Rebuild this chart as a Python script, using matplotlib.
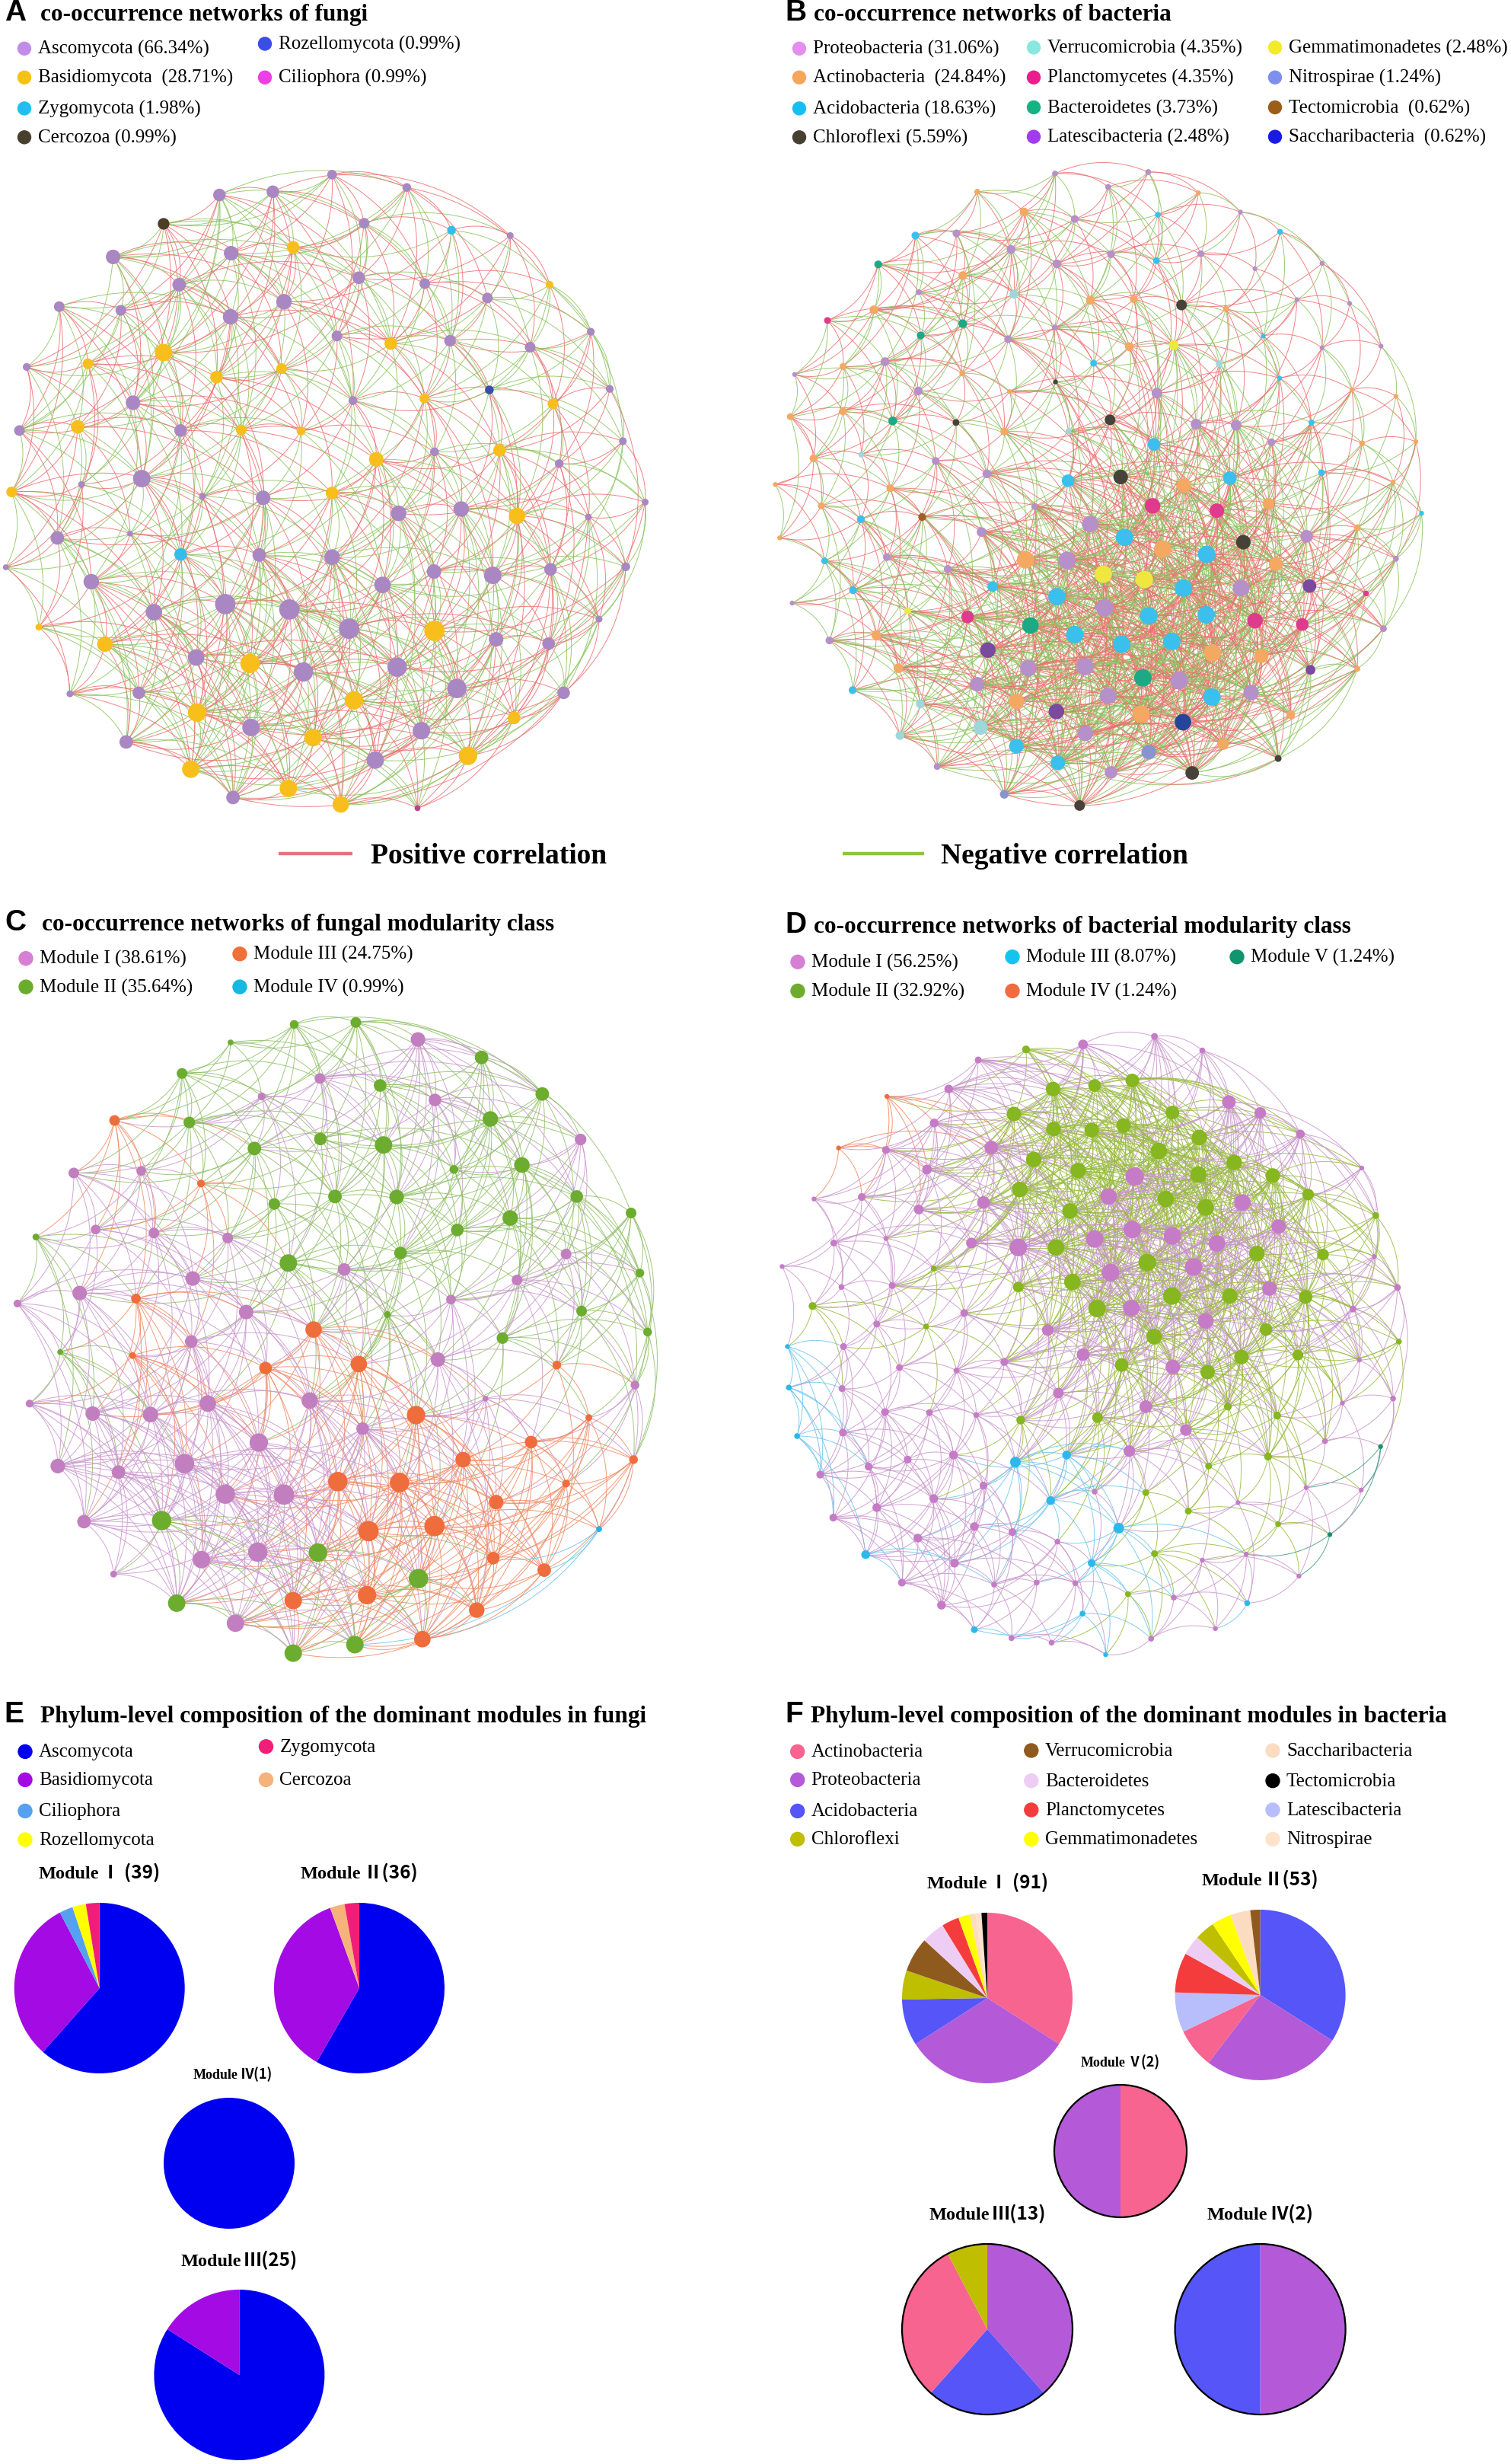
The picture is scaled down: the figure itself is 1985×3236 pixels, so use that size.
import numpy as np
import matplotlib
matplotlib.use('Agg')
import matplotlib.pyplot as plt
from matplotlib.collections import LineCollection
from matplotlib.patches import Circle, Wedge
from matplotlib.offsetbox import TextArea, HPacker, AnnotationBbox

SERIF = 'Liberation Serif'

# ---------------- network A (fungi, by phylum) : layout x, y, node radius, phylum
fungi_nodes = [
    (684,327,10,'As'),(452,365,13,'As'),(562,359,13,'As'),(838,351,9,'As'),(337,419,12,'Ce'),
    (750,418,11,'As'),(930,431,9,'Zy'),(1051,441,7,'As'),(233,481,15,'As'),(476,474,15,'As'),
    (604,463,13,'Ba'),(369,533,14,'As'),(739,520,13,'As'),(875,531,11,'As'),(1132,533,8,'Ba'),
    (585,565,16,'As'),(1004,558,11,'As'),(122,574,11,'As'),(249,581,11,'As'),(475,593,16,'As'),
    (1217,621,8,'As'),(694,629,11,'As'),(805,643,13,'Ba'),(927,638,12,'As'),(1092,650,11,'As'),
    (337,660,18,'Ba'),(181,681,11,'Ba'),(55,687,8,'As'),(580,690,11,'Ba'),(446,706,13,'Ba'),
    (1008,730,9,'Ro'),(727,750,9,'As'),(874,746,10,'Ba'),(1139,756,11,'Ba'),(1256,728,8,'As'),
    (274,754,15,'As'),(40,806,11,'As'),(160,799,14,'Ba'),(372,806,13,'As'),(497,805,11,'Ba'),
    (620,807,9,'Ba'),(1029,843,13,'Ba'),(1283,826,8,'As'),(895,846,9,'As'),(775,860,15,'Ba'),
    (1152,868,9,'As'),(292,896,18,'As'),(168,907,7,'As'),(24,921,11,'Ba'),(417,929,7,'As'),
    (542,932,15,'As'),(684,923,13,'Ba'),(821,961,16,'As'),(950,953,16,'As'),(1065,966,17,'Ba'),
    (1329,940,7,'As'),(1212,968,7,'As'),(118,1007,14,'As'),(268,999,6,'As'),(372,1038,13,'Zy'),
    (534,1039,14,'As'),(684,1043,16,'As'),(12,1062,6,'As'),(188,1089,16,'As'),(894,1070,15,'As'),
    (1015,1077,18,'As'),(1134,1066,13,'As'),(1289,1061,9,'As'),(788,1095,17,'As'),(317,1146,17,'As'),
    (464,1131,21,'As'),(596,1141,21,'As'),(80,1174,7,'Ba'),(719,1177,21,'As'),(895,1181,21,'Ba'),
    (1234,1159,7,'As'),(216,1206,16,'Ba'),(1022,1197,15,'As'),(1130,1205,13,'As'),(404,1231,17,'As'),
    (515,1242,20,'Ba'),(625,1258,20,'As'),(818,1249,20,'As'),(941,1289,20,'As'),(1161,1297,13,'As'),
    (144,1299,7,'As'),(286,1297,13,'As'),(729,1311,19,'Ba'),(406,1334,19,'Ba'),(1059,1344,13,'Ba'),
    (517,1362,18,'As'),(868,1368,18,'As'),(645,1381,18,'Ba'),(260,1389,14,'As'),(773,1423,18,'As'),
    (964,1415,19,'Ba'),(393,1440,18,'Ba'),(594,1476,18,'Ba'),(480,1493,14,'As'),(702,1506,17,'Ba'),
    (860,1513,6,'Ci'),
]
fungi_node_colors = {'As': '#a987c3', 'Ba': '#f8bf1c', 'Zy': '#35bde9', 'Ce': '#4b3e26',
                     'Ro': '#3551a5', 'Ci': '#b9448c'}
fungi_legend = [('Ascomycota (66.34%)', '#c28de8'), ('Basidiomycota  (28.71%)', '#f5c211'),
                ('Zygomycota (1.98%)', '#1fc0f0'), ('Cercozoa (0.99%)', '#4a3f2f'),
                ('Rozellomycota (0.99%)', '#3b4de6'), ('Ciliophora (0.99%)', '#ee3ee6')]

# ---------------- network B (bacteria, by phylum)
bact_nodes = [
    (624,325,6,'P'),(817,322,6,'P'),(463,359,6,'Ac'),(734,350,6,'P'),(921,361,5,'Ac'),
    (560,397,9,'Ac'),(665,410,8,'P'),(837,402,6,'Ad'),(1008,397,5,'P'),(1090,434,6,'Ad'),
    (335,441,8,'Ad'),(420,437,8,'P'),(533,467,9,'P'),(740,476,8,'P'),(926,475,7,'P'),
    (258,495,8,'Bc'),(628,494,9,'P'),(834,488,7,'Ad'),(1177,493,5,'P'),(1038,503,5,'P'),
    (433,516,9,'Ac'),(539,551,9,'V'),(342,547,6,'P'),(697,562,9,'Ac'),(787,560,8,'Ac'),
    (886,571,11,'Ch'),(1125,561,5,'P'),(1234,568,5,'P'),(978,578,6,'Ac'),(249,580,9,'Ac'),
    (153,600,7,'Pl'),(433,606,9,'Bc'),(346,628,8,'Bc'),(624,613,6,'P'),(527,635,8,'P'),
    (778,649,9,'Ac'),(870,646,10,'G'),(1055,629,5,'Ad'),(1177,651,5,'P'),(1299,648,5,'P'),
    (272,677,9,'P'),(185,686,7,'Ac'),(704,680,7,'Ad'),(964,681,7,'V'),(85,701,5,'P'),
    (432,699,6,'Ac'),(625,715,5,'Ch'),(530,733,5,'Ac'),(835,736,11,'P'),(1089,708,5,'Ad'),
    (1239,730,5,'Ac'),(1330,742,5,'Ac'),(341,732,9,'P'),(185,770,8,'Ac'),(76,780,7,'Ac'),
    (288,788,9,'Bc'),(419,791,7,'Ch'),(738,786,11,'Ch'),(519,808,8,'Ac'),(652,807,6,'V'),
    (916,794,11,'P'),(999,796,11,'P'),(1155,791,6,'Ad'),(1072,828,8,'P'),(1260,830,6,'Ac'),
    (1371,827,5,'Ac'),(829,832,13,'Ad'),(124,858,8,'Ac'),(223,851,6,'V'),(377,863,8,'P'),
    (483,887,9,'P'),(1176,885,7,'Ad'),(45,907,5,'Ac'),(283,914,8,'Ac'),(651,900,13,'Ad'),
    (760,893,15,'Ch'),(891,909,15,'Ac'),(986,895,14,'Ad'),(1324,903,5,'Ac'),(140,947,7,'Ac'),
    (582,948,7,'P'),(826,947,16,'Pl'),(959,956,15,'Pl'),(1066,943,12,'Ac'),(1383,961,5,'Ad'),
    (222,972,8,'Ad'),(349,968,8,'T'),(697,981,17,'P'),(54,1007,5,'Ac'),(472,996,10,'P'),
    (768,1006,18,'Ad'),(847,1028,18,'Ac'),(1014,1015,15,'Ch'),(1145,1004,13,'P'),(1250,988,7,'Ac'),
    (563,1048,18,'Ac'),(649,1049,18,'P'),(938,1038,18,'Ad'),(276,1043,8,'P'),(147,1050,7,'Ad'),
    (402,1065,8,'P'),(1081,1056,14,'Ac'),(1330,1046,6,'P'),(724,1075,18,'G'),(809,1085,18,'G'),
    (890,1101,18,'Ad'),(1009,1101,17,'P'),(1151,1097,14,'Lt'),(206,1105,8,'Ad'),(495,1098,11,'Ad'),
    (628,1117,18,'Ad'),(727,1138,18,'P'),(818,1153,18,'Ad'),(937,1151,18,'Ad'),(1268,1111,6,'Pl'),
    (80,1129,5,'P'),(319,1144,7,'G'),(443,1155,13,'Pl'),(573,1171,17,'Bc'),(1038,1162,16,'Pl'),
    (1136,1169,13,'Pl'),(665,1188,18,'Ad'),(762,1206,18,'Ad'),(866,1201,18,'Ad'),(1304,1177,7,'P'),
    (157,1199,8,'P'),(254,1189,10,'Ac'),(485,1217,16,'Lt'),(950,1222,18,'Ac'),(1051,1228,15,'Ac'),
    (1153,1254,10,'Lt'),(569,1251,17,'P'),(686,1248,18,'P'),(300,1251,10,'Ac'),(1250,1252,6,'Ac'),
    (806,1269,18,'Bc'),(881,1274,18,'P'),(463,1281,15,'P'),(1030,1297,16,'P'),(205,1292,8,'Ad'),
    (544,1313,16,'Ac'),(734,1303,17,'P'),(949,1305,18,'Ad'),(345,1318,9,'V'),(627,1332,16,'Lt'),
    (802,1337,18,'Ac'),(1112,1338,9,'Ac'),(889,1352,17,'S'),(470,1362,15,'V'),(687,1373,16,'P'),
    (303,1377,9,'V'),(544,1397,15,'Ad'),(972,1393,12,'Ac'),(818,1408,15,'N'),(1086,1420,7,'Ch'),
    (380,1435,7,'P'),(630,1428,15,'Ad'),(740,1446,13,'P'),(908,1447,14,'Ch'),(519,1487,9,'N'),
    (675,1508,11,'Ch'),
]
bact_node_colors = {'P': '#b590c9', 'Ac': '#f4a862', 'Ad': '#3bbfec', 'Ch': '#46423a', 'V': '#9fd6dc',
                    'Pl': '#df3a8e', 'Bc': '#1fa885', 'Lt': '#7a4a9e', 'G': '#f0e640', 'N': '#8a94cc',
                    'T': '#9b6125', 'S': '#25459a'}
bact_legend = [('Proteobacteria (31.06%)', '#e48ef0'), ('Actinobacteria  (24.84%)', '#f5a65b'),
               ('Acidobacteria (18.63%)', '#17bff0'), ('Chloroflexi (5.59%)', '#473f31'),
               ('Verrucomicrobia (4.35%)', '#88e8e0'), ('Planctomycetes (4.35%)', '#ec1c8c'),
               ('Bacteroidetes (3.73%)', '#14b384'), ('Latescibacteria (2.48%)', '#a23bf0'),
               ('Gemmatimonadetes (2.48%)', '#f3ea2c'), ('Nitrospirae (1.24%)', '#7f8fee'),
               ('Tectomicrobia  (0.62%)', '#9b5d1a'), ('Saccharibacteria  (0.62%)', '#1a1ae6')]

# ---------------- network C (fungi, by module)
fmod_nodes = [
    (606,267,9,1),(733,263,11,1),(475,303,6,1),(861,297,15,0),(375,365,11,1),(659,375,11,0),
    (992,333,14,1),(783,389,13,1),(539,411,8,0),(896,418,13,0),(1117,406,14,1),(236,459,11,2),
    (390,463,12,1),(1010,456,16,1),(524,515,14,1),(660,496,13,1),(790,508,18,1),(1196,497,12,0),
    (1075,548,16,1),(935,557,9,1),(152,564,11,0),(291,560,10,0),(414,585,8,2),(565,626,12,1),
    (690,611,14,1),(817,612,15,1),(1188,611,13,1),(1051,654,16,1),(1300,644,11,1),(197,677,10,0),
    (317,684,11,0),(469,694,11,0),(942,678,13,1),(74,692,7,1),(594,744,18,1),(825,724,13,1),
    (709,757,13,0),(1166,726,11,0),(1065,778,11,0),(1318,764,9,1),(36,825,8,0),(164,804,15,0),
    (397,775,15,0),(280,815,10,2),(507,842,15,0),(929,817,10,0),(798,847,7,1),(1198,840,11,1),
    (646,877,17,2),(1035,894,12,1),(1334,882,9,1),(124,922,6,1),(394,901,13,0),(273,929,7,2),
    (547,954,13,2),(739,946,17,2),(902,937,15,0),(1147,948,9,2),(1308,988,9,0),(1000,1015,6,0),
    (61,1025,8,0),(191,1045,15,0),(310,1047,16,0),(428,1025,17,0),(638,1019,17,0),(857,1048,19,2),
    (747,1075,13,0),(1213,1053,7,2),(1094,1102,13,2),(533,1103,19,0),(119,1150,15,0),(244,1162,14,0),
    (380,1145,20,0),(954,1137,16,2),(1305,1137,9,2),(696,1181,20,2),(823,1183,20,2),(1166,1185,8,2),
    (464,1206,20,0),(585,1207,21,0),(1022,1222,15,2),(333,1259,20,1),(173,1261,14,0),(759,1280,21,2),
    (895,1270,21,2),(1234,1276,6,3),(531,1322,20,0),(655,1323,19,1),(415,1337,18,0),(1016,1334,13,2),
    (1121,1358,14,2),(234,1366,7,0),(862,1375,20,1),(364,1424,18,1),(604,1419,18,2),(756,1408,19,2),
    (982,1438,16,2),(485,1464,18,0),(870,1496,17,2),(604,1524,18,1),(731,1507,18,1),
]
fmod_node_colors = ['#c27fc0', '#6cac2f', '#ef6d3c', '#20b5e3']
fmod_edge_colors = ['#c995cd', '#8fbf66', '#ef8a62', '#6cc3e6']
fmod_legend = [('Module I (38.61%)', '#d77fd4'), ('Module II (35.64%)', '#6aad2d'),
               ('Module III (24.75%)', '#f07038'), ('Module IV (0.99%)', '#14b8e0')]

# ---------------- network D (bacteria, by module)
bmod_nodes = [
    (682,307,10,0),(830,291,7,0),(564,317,8,1),(929,319,6,0),(465,338,7,0),(404,396,9,0),
    (620,396,15,1),(706,389,13,1),(784,379,14,1),(276,411,5,3),(539,446,15,1),(867,443,14,1),
    (984,422,14,0),(1049,444,12,0),(374,464,9,0),(621,476,15,1),(700,478,15,1),(766,469,15,1),
    (923,493,16,1),(1132,486,9,0),(176,514,5,3),(274,518,8,0),(492,513,14,0),(580,537,16,1),
    (839,520,17,1),(995,543,16,1),(359,557,10,0),(672,559,16,1),(789,571,19,0),(921,567,17,1),
    (1075,569,15,1),(1259,554,5,0),(224,612,8,0),(551,597,16,1),(735,611,17,0),(853,616,17,1),
    (1012,623,17,0),(476,623,13,0),(1148,607,12,1),(125,616,5,0),(342,637,10,0),(655,640,16,1),
    (936,633,17,1),(1288,649,7,1),(1087,671,15,0),(166,704,7,0),(274,695,5,0),(451,704,11,0),
    (548,713,18,0),(626,713,17,1),(706,696,18,0),(784,677,18,0),(867,690,18,0),(959,705,17,0),
    (1042,725,16,1),(1179,727,12,1),(373,755,6,1),(59,751,5,0),(1285,731,5,0),(739,763,18,0),
    (815,743,18,1),(911,752,18,0),(182,792,6,0),(287,789,7,0),(548,792,11,1),(660,782,17,1),
    (866,810,18,1),(986,810,16,1),(1068,795,15,0),(1143,812,14,1),(1333,793,7,0),(122,830,8,1),
    (711,835,18,1),(782,834,17,0),(1241,836,7,0),(436,844,8,0),(255,866,7,0),(357,871,6,1),
    (609,878,12,0),(936,860,16,0),(1061,877,13,1),(829,891,16,1),(1336,901,6,1),(70,911,5,2),
    (186,911,7,0),(682,927,13,0),(1010,932,15,1),(1127,928,11,1),(302,953,7,0),(420,959,6,0),
    (519,942,8,0),(762,948,14,1),(868,952,15,0),(940,962,15,1),(1254,938,5,0),(73,993,6,2),
    (183,995,7,0),(631,1004,11,0),(812,1031,13,0),(982,1031,8,1),(1219,1024,5,0),(1324,1015,6,0),
    (272,1042,8,0),(364,1043,7,0),(461,1048,6,0),(553,1058,9,1),(712,1053,11,1),(1084,1049,8,1),
    (895,1078,12,0),(90,1090,6,2),(185,1083,8,0),(1183,1100,6,0),(1298,1111,5,4),(542,1142,11,2),
    (648,1128,9,2),(778,1120,12,0),(942,1150,7,1),(1065,1131,8,1),(319,1137,8,0),(414,1128,9,0),
    (238,1151,8,0),(138,1167,8,0),(476,1189,8,0),(1144,1193,5,0),(1258,1198,5,0),(615,1219,9,2),
    (706,1201,6,0),(812,1203,7,1),(373,1215,9,0),(1003,1223,5,0),(255,1233,9,0),(900,1240,7,1),
    (165,1253,8,0),(457,1271,9,0),(536,1282,8,0),(756,1274,11,2),(1086,1266,6,1),(1193,1287,5,4),
    (340,1294,9,0),(629,1301,6,0),(232,1327,9,2),(830,1325,7,1),(1020,1326,5,0),(416,1344,9,0),
    (700,1344,8,2),(929,1338,5,0),(307,1383,8,0),(498,1387,6,0),(586,1383,6,0),(666,1384,6,0),
    (1129,1370,5,0),(775,1406,6,1),(389,1428,9,0),(870,1413,6,0),(1022,1424,6,2),(681,1445,6,2),
    (457,1477,7,2),(534,1494,6,0),(617,1503,6,0),(823,1495,6,0),(956,1475,5,0),(729,1527,5,2),
]
bmod_node_colors = ['#c67bc6', '#86b620', '#2db8ec', '#f06a3a', '#1a8f6c']
bmod_edge_colors = ['#c994cb', '#98bb3e', '#6cc4ec', '#f0875e', '#3a9a7c']
bmod_legend = [('Module I (56.25%)', '#d480d4'), ('Module II (32.92%)', '#6fac2e'),
               ('Module III (8.07%)', '#14c4ee'), ('Module IV (1.24%)', '#f26a40'),
               ('Module V (1.24%)', '#13936e')]

# ---------------- panel E pies (phylum counts per module, clockwise from 12 o'clock)
fungi_phyla_colors = {'Ascomycota': '#0000f0', 'Basidiomycota': '#a40ae4', 'Ciliophora': '#55a0f0',
                      'Rozellomycota': '#ffff00', 'Zygomycota': '#f01e78', 'Cercozoa': '#f5b27a'}
fungi_pie_legend = ['Ascomycota', 'Basidiomycota', 'Ciliophora', 'Rozellomycota', 'Zygomycota', 'Cercozoa']
e_mod1 = [('Ascomycota', 24), ('Basidiomycota', 12), ('Ciliophora', 1), ('Rozellomycota', 1), ('Zygomycota', 1)]
e_mod2 = [('Ascomycota', 21), ('Basidiomycota', 13), ('Cercozoa', 1), ('Zygomycota', 1)]
e_mod4 = [('Ascomycota', 1)]
e_mod3 = [('Ascomycota', 21), ('Basidiomycota', 4)]

# ---------------- panel F pies
bact_phyla_colors = {'Actinobacteria': '#f7648f', 'Proteobacteria': '#b45ad8', 'Acidobacteria': '#5555f8',
                     'Chloroflexi': '#c0be00', 'Verrucomicrobia': '#8f5a1e', 'Bacteroidetes': '#eecdf5',
                     'Planctomycetes': '#f53c3c', 'Gemmatimonadetes': '#ffff00',
                     'Saccharibacteria': '#fcdcc0', 'Tectomicrobia': '#000000',
                     'Latescibacteria': '#b8befc', 'Nitrospirae': '#fde3cc'}
bact_pie_legend = ['Actinobacteria', 'Proteobacteria', 'Acidobacteria', 'Chloroflexi',
                   'Verrucomicrobia', 'Bacteroidetes', 'Planctomycetes', 'Gemmatimonadetes',
                   'Saccharibacteria', 'Tectomicrobia', 'Latescibacteria', 'Nitrospirae']
f_mod1 = [('Actinobacteria', 31), ('Proteobacteria', 29), ('Acidobacteria', 8), ('Chloroflexi', 5),
          ('Verrucomicrobia', 6), ('Bacteroidetes', 4), ('Planctomycetes', 3), ('Gemmatimonadetes', 2),
          ('Saccharibacteria', 1), ('Nitrospirae', 1), ('Tectomicrobia', 1)]
f_mod2 = [('Acidobacteria', 18), ('Proteobacteria', 14), ('Actinobacteria', 4), ('Latescibacteria', 4),
          ('Planctomycetes', 4), ('Bacteroidetes', 2), ('Chloroflexi', 2), ('Gemmatimonadetes', 2),
          ('Saccharibacteria', 2), ('Verrucomicrobia', 1)]
f_mod5 = [('Actinobacteria', 1), ('Proteobacteria', 1)]
f_mod3 = [('Proteobacteria', 5), ('Acidobacteria', 3), ('Actinobacteria', 4), ('Chloroflexi', 1)]
f_mod4 = [('Proteobacteria', 1), ('Acidobacteria', 1)]

W, H = 1985, 3236
fig = plt.figure(figsize=(W / 100, H / 100), dpi=100)
ax = fig.add_axes([0, 0, 1, 1])
ax.set_xlim(0, W)
ax.set_ylim(H, 0)
ax.axis('off')


def pick_edges(px, py, pr, per_px=1.2, kmax=None):
    # links from each node to a spread of its neighbours, more for bigger (higher degree) nodes
    pts = np.c_[px, py]
    d = np.hypot(pts[:, None, 0] - pts[None, :, 0], pts[:, None, 1] - pts[None, :, 1])
    n = len(px)
    edges = set()
    for i in range(n):
        order = np.argsort(d[i])[1:]
        if kmax:
            k = max(2, int(round((pr[i] / pr.max()) ** 1.6 * kmax)))
        else:
            k = max(3, int(pr[i] * per_px))
        picks = list(order[:min(2 * k, n - 1):2]) + list(order[:2])
        for j in picks:
            edges.add((min(i, j), max(i, j)))
    return sorted(edges)


def arcs(px, py, edges, bend=0.22, n=18):
    t = np.linspace(0, 1, n)[:, None]
    segs = []
    for i, j in edges:
        p0 = np.array([px[i], py[i]])
        p2 = np.array([px[j], py[j]])
        dd = p2 - p0
        c = (p0 + p2) / 2 + bend * np.array([dd[1], -dd[0]])
        segs.append((1 - t) ** 2 * p0 + 2 * (1 - t) * t * c + t ** 2 * p2)
    return segs


def network(nodes, x0, y0, sh, sv, node_col, edge_col, per_px=1.2, kmax=None):
    lx, ly, lr, g = zip(*nodes)
    px = x0 + np.array(lx) / sh
    py = y0 + np.array(ly) / sv
    pr = np.array(lr) / 1.57
    edges = pick_edges(px, py, pr, per_px, kmax)
    cols = [edge_col(i, j, g) for i, j in edges]
    ax.add_collection(LineCollection(arcs(px, py, edges), colors=cols, linewidths=0.7,
                                     alpha=0.85, zorder=1))
    ax.scatter(px, py, s=(2 * pr * 0.72) ** 2, c=[node_col[k] for k in g],
               linewidths=0, zorder=2)


def corr_color(i, j, g):
    return '#ec6f6f' if (i * 3 + j) % 2 else '#8cc45f'


def legend_item(xc, yc, label, color, r=8.5, fs=18, gap=18):
    ax.add_patch(Circle((xc, yc), r, color=color, zorder=3))
    ax.text(xc + gap, yc + 1, label, fontsize=fs, family=SERIF, va='center', ha='left')


def heading(letter, lx, tx, base, title):
    ax.text(lx, base, letter, fontsize=28, family='Liberation Sans', weight='bold', va='baseline')
    ax.text(tx, base, title, fontsize=22.5, family=SERIF, weight='bold', va='baseline')


def pie(cx, cy, r, parts, colors, outline=False):
    total = sum(v for _, v in parts)
    start = -90.0
    for name, v in parts:
        span = 360.0 * v / total
        ax.add_patch(Wedge((cx, cy), r, start, start + span, color=colors[name], lw=0, zorder=2))
        start += span
    if outline:
        ax.add_patch(Circle((cx, cy), r, fill=False, ec='black', lw=1.6, zorder=3))


def pie_title(x, y, word, rest, fs=17.5):
    box = HPacker(children=[
        TextArea(word, textprops=dict(fontsize=fs, family=SERIF, weight='bold')),
        TextArea(rest, textprops=dict(fontsize=fs, family='Noto Sans CJK SC', weight='bold'))],
        align='baseline', pad=0, sep=2)
    ax.add_artist(AnnotationBbox(box, (x, y), xycoords='data', frameon=False,
                                 box_alignment=(0.5, 0.5), pad=0))


# ---------- A
heading('A', 6, 53, 27, 'co-occurrence networks of fungi')
for k, (lab, col) in enumerate(fungi_legend[:4]):
    legend_item(32, [63.8, 101.7, 142.4, 180.3][k], lab, col)
for k, (lab, col) in enumerate(fungi_legend[4:]):
    legend_item(348, [57.5, 101.7][k], lab, col)
network(fungi_nodes, 0, 0, 1.568, 1.4255, fungi_node_colors, corr_color, 1.4)

# ---------- B
heading('B', 1031, 1069, 27, 'co-occurrence networks of bacteria')
bx = [1050, 1358, 1675]
for k, (lab, col) in enumerate(bact_legend):
    c, rrow = divmod(k, 4)
    ys = [63.8, 101.7, 142.4, 180.3] if c == 0 else [62.4, 101.7, 141.0, 179.6]
    legend_item(bx[c], ys[rrow], lab, col)
network(bact_nodes, 990, 0, 1.576, 1.4255, bact_node_colors, corr_color, kmax=32)

# correlation legend
ax.plot([366, 463], [1121, 1121], color='#e8717e', lw=3.2, solid_capstyle='butt')
ax.text(487, 1124, 'Positive correlation', fontsize=27, family=SERIF, weight='bold', va='center')
ax.plot([1107, 1214], [1121, 1121], color='#8cc63f', lw=3.2, solid_capstyle='butt')
ax.text(1236, 1124, 'Negative correlation', fontsize=27, family=SERIF, weight='bold', va='center')

# ---------- C
heading('C', 6, 55, 1222, 'co-occurrence networks of fungal modularity class')
legend_item(34, 1258.7, fmod_legend[0][0], fmod_legend[0][1], r=9)
legend_item(34, 1296.1, fmod_legend[1][0], fmod_legend[1][1], r=9)
legend_item(315, 1252.8, fmod_legend[2][0], fmod_legend[2][1], r=9)
legend_item(315, 1296.1, fmod_legend[3][0], fmod_legend[3][1], r=9)
network(fmod_nodes, 0, 1170, 1.568, 1.5223, fmod_node_colors,
        lambda i, j, g: fmod_edge_colors[g[i]], 1.4)

# ---------- D
heading('D', 1031, 1069, 1225, 'co-occurrence networks of bacterial modularity class')
legend_item(1048, 1263.3, bmod_legend[0][0], bmod_legend[0][1], r=9)
legend_item(1048, 1301.4, bmod_legend[1][0], bmod_legend[1][1], r=9)
legend_item(1330, 1256.7, bmod_legend[2][0], bmod_legend[2][1], r=9)
legend_item(1330, 1301.4, bmod_legend[3][0], bmod_legend[3][1], r=9)
legend_item(1625, 1256.7, bmod_legend[4][0], bmod_legend[4][1], r=9)
network(bmod_nodes, 990, 1170, 1.576, 1.5223, bmod_node_colors,
        lambda i, j, g: bmod_edge_colors[g[i]], kmax=32)

# ---------- E
heading('E', 5, 53, 2262, 'Phylum-level composition of the dominant modules in fungi')
for k, name in enumerate(fungi_pie_legend[:4]):
    legend_item(33, [2300.4, 2337.4, 2378.4, 2416][k], name, fungi_phyla_colors[name], r=9)
for k, name in enumerate(fungi_pie_legend[4:]):
    legend_item(349.5, [2293.8, 2337.4][k], name, fungi_phyla_colors[name], r=9)
pie(130.7, 2611, 112, e_mod1, fungi_phyla_colors)
pie(472, 2611, 112, e_mod2, fungi_phyla_colors)
pie(301, 2841, 86, e_mod4, fungi_phyla_colors)
pie(314.4, 3119, 112, e_mod3, fungi_phyla_colors)
pie_title(130.7, 2459, 'Module', 'Ⅰ (39)')
pie_title(472, 2459, 'Module', 'Ⅱ(36)')
pie_title(306, 2724, 'Module', 'Ⅳ(1)', fs=13)
pie_title(314.4, 2968, 'Module', 'Ⅲ(25)')

# ---------- F
heading('F', 1031, 1065, 2262, 'Phylum-level composition of the dominant modules in bacteria')
fx = [1047.7, 1354.8, 1672]
for k, name in enumerate(bact_pie_legend):
    c, rrow = divmod(k, 4)
    ys = [2300.4, 2337.4, 2378.4, 2415.4] if c == 0 else [2299, 2338.7, 2377, 2415.4]
    legend_item(fx[c], ys[rrow], name, bact_phyla_colors[name], r=9)
pie(1297, 2624, 112, f_mod1, bact_phyla_colors)
pie(1655.6, 2620, 112, f_mod2, bact_phyla_colors)
pie(1472, 2825, 87, f_mod5, bact_phyla_colors, outline=True)
pie(1297, 3059, 112, f_mod3, bact_phyla_colors, outline=True)
pie(1655.6, 3059, 112, f_mod4, bact_phyla_colors, outline=True)
pie_title(1297, 2472, 'Module', 'Ⅰ (91)')
pie_title(1655.6, 2468, 'Module', 'Ⅱ(53)')
pie_title(1472, 2708, 'Module', 'Ⅴ(2)', fs=13)
pie_title(1297, 2907, 'Module', 'Ⅲ(13)')
pie_title(1655.6, 2907, 'Module', 'Ⅳ(2)')

fig.savefig('out.png', dpi=100, facecolor='white')
